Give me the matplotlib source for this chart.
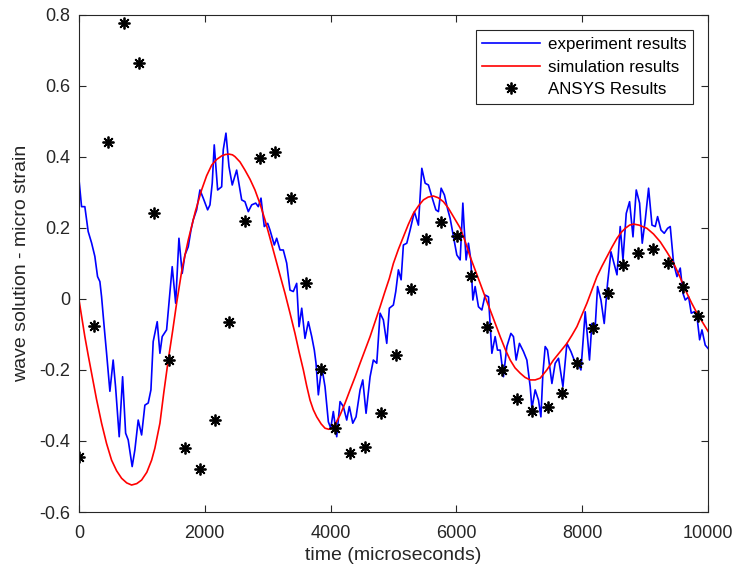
import numpy as np
import matplotlib
matplotlib.use("Agg")
import matplotlib.pyplot as plt

plt.rcParams["font.family"] = ["Liberation Sans", "DejaVu Sans"]
plt.rcParams["axes.unicode_minus"] = False

# experiment results (time in microseconds, strain)
exp_t = [0, 43, 95, 148, 202, 254, 297, 334, 361, 402, 440, 493, 545, 583, 641, 695, 743, 784,
         847, 890, 943, 997, 1049, 1102, 1145, 1181, 1245, 1288, 1324, 1394, 1431, 1483, 1538,
         1590, 1642, 1685, 1738, 1781, 1817, 1871, 1924, 1976, 2046, 2083, 2119, 2151, 2205,
         2269, 2294, 2337, 2385, 2437, 2507, 2587, 2639, 2692, 2746, 2810, 2851, 2894, 2946,
         3000, 3037, 3105, 3143, 3196, 3248, 3302, 3355, 3407, 3461, 3498, 3541, 3593, 3646,
         3700, 3741, 3768, 3805, 3859, 3911, 3964, 4002, 4043, 4097, 4150, 4202, 4256, 4297,
         4352, 4404, 4468, 4511, 4563, 4627, 4679, 4733, 4786, 4838, 4892, 4933, 4997, 5035,
         5077, 5120, 5156, 5210, 5263, 5331, 5395, 5449, 5502, 5554, 5608, 5672, 5713, 5756,
         5808, 5862, 5899, 5952, 6005, 6058, 6101, 6121, 6153, 6190, 6228, 6260, 6296, 6349,
         6403, 6455, 6508, 6562, 6614, 6651, 6694, 6746, 6800, 6864, 6905, 6948, 7000, 7064,
         7118, 7171, 7198, 7250, 7303, 7341, 7373, 7409, 7446, 7516, 7568, 7621, 7691, 7754,
         7818, 7870, 7922, 7977, 8045, 8113, 8151, 8204, 8241, 8295, 8347, 8400, 8454, 8495,
         8550, 8601, 8645, 8697, 8750, 8804, 8856, 8909, 8951, 8999, 9052, 9106, 9158, 9195,
         9249, 9301, 9354, 9396, 9449, 9503, 9555, 9598, 9634, 9688, 9730, 9778, 9821, 9863,
         9900, 9952, 10000]
exp_v = [0.34, 0.26, 0.26, 0.19, 0.158, 0.12, 0.063, 0.049, 0.006, -0.078, -0.152, -0.26, -0.172,
         -0.247, -0.388, -0.219, -0.378, -0.397, -0.472, -0.425, -0.341, -0.383, -0.299, -0.293,
         -0.256, -0.12, -0.064, -0.153, -0.106, -0.087, -0.012, 0.091, -0.012, 0.171, 0.072,
         0.124, 0.147, 0.194, 0.223, 0.251, 0.307, 0.284, 0.251, 0.265, 0.326, 0.434, 0.307,
         0.316, 0.42, 0.467, 0.373, 0.321, 0.363, 0.279, 0.274, 0.246, 0.265, 0.27, 0.26, 0.284,
         0.204, 0.213, 0.194, 0.152, 0.171, 0.138, 0.138, 0.101, 0.025, 0.021, 0.044, -0.078,
         -0.026, -0.111, -0.064, -0.106, -0.144, -0.181, -0.27, -0.191, -0.247, -0.346, -0.364,
         -0.317, -0.388, -0.289, -0.303, -0.341, -0.303, -0.35, -0.332, -0.256, -0.228, -0.322,
         -0.219, -0.172, -0.181, -0.04, -0.059, -0.125, -0.026, -0.017, 0.021, 0.082, 0.054,
         0.152, 0.157, 0.194, 0.246, 0.208, 0.368, 0.326, 0.321, 0.288, 0.251, 0.246, 0.312,
         0.293, 0.251, 0.227, 0.175, 0.124, 0.11, 0.27, 0.204, 0.11, 0.157, 0.11, -0.003, 0.035,
         -0.022, -0.031, 0.011, 0.006, -0.153, -0.106, -0.144, -0.144, -0.219, -0.134, -0.097,
         -0.106, -0.172, -0.125, -0.148, -0.172, -0.247, -0.308, -0.256, -0.285, -0.332, -0.209,
         -0.134, -0.144, -0.238, -0.181, -0.167, -0.247, -0.125, -0.148, -0.172, -0.177, -0.2,
         -0.036, -0.172, -0.069, -0.078, 0.035, -0.003, -0.069, 0.044, 0.133, 0.105, 0.068,
         0.204, 0.11, 0.241, 0.274, 0.175, 0.307, 0.27, 0.157, 0.223, 0.312, 0.208, 0.204, 0.232,
         0.194, 0.185, 0.199, 0.204, 0.101, 0.063, 0.087, 0.016, -0.003, 0.006, -0.04, -0.036,
         -0.05, -0.115, -0.087, -0.13, -0.14]

# simulation results
sim_t = [0, 50, 95, 150, 202, 280, 361, 440, 520, 600, 679, 760, 838, 920, 997, 1080, 1156, 1208,
         1288, 1350, 1420, 1490, 1553, 1640, 1738, 1850, 1950, 2030, 2110, 2190, 2269, 2330, 2385,
         2440, 2480, 2560, 2639, 2720, 2798, 2880, 2957, 3036, 3116, 3196, 3275, 3355, 3434,
         3500, 3567, 3620, 3673, 3725, 3779, 3850, 3911, 3970, 4018, 4080, 4150, 4230, 4309,
         4390, 4468, 4548, 4627, 4706, 4786, 4860, 4933, 4997, 5077, 5156, 5235, 5315, 5395,
         5474, 5550, 5633, 5710, 5792, 5870, 5951, 6058, 6140, 6217, 6296, 6376, 6455, 6535,
         6615, 6694, 6775, 6853, 6930, 7012, 7090, 7171, 7250, 7330, 7435, 7541, 7650, 7754,
         7835, 7913, 7990, 8072, 8150, 8231, 8310, 8390, 8470, 8550, 8620, 8681, 8750, 8813,
         8900, 9025, 9130, 9237, 9340, 9449, 9555, 9661, 9740, 9821, 9910, 10000]
sim_v = [0.0, -0.055, -0.106, -0.16, -0.209, -0.282, -0.35, -0.407, -0.454, -0.484, -0.505,
         -0.518, -0.524, -0.52, -0.51, -0.488, -0.454, -0.42, -0.35, -0.263, -0.172, -0.09, -0.012,
         0.085, 0.166, 0.246, 0.307, 0.347, 0.377, 0.393, 0.403, 0.407, 0.408, 0.406, 0.401,
         0.386, 0.363, 0.337, 0.307, 0.267, 0.223, 0.172, 0.119, 0.067, 0.016, -0.04, -0.097,
         -0.15, -0.2, -0.245, -0.285, -0.312, -0.332, -0.352, -0.364, -0.367, -0.364, -0.35,
         -0.327, -0.293, -0.256, -0.219, -0.181, -0.143, -0.106, -0.064, -0.022, 0.019, 0.058,
         0.1, 0.14, 0.175, 0.21, 0.241, 0.262, 0.279, 0.287, 0.29, 0.285, 0.274, 0.256, 0.232,
         0.2, 0.161, 0.119, 0.082, 0.044, 0.006, -0.031, -0.069, -0.106, -0.142, -0.172, -0.194,
         -0.209, -0.221, -0.228, -0.228, -0.223, -0.2, -0.172, -0.148, -0.125, -0.102, -0.078,
         -0.046, -0.012, 0.025, 0.063, 0.092, 0.119, 0.146, 0.171, 0.188, 0.199, 0.208, 0.211,
         0.208, 0.199, 0.183, 0.161, 0.133, 0.101, 0.06, 0.016, -0.013, -0.04, -0.066, -0.092]

# ANSYS results
ansys_t = [0, 243, 466, 715, 959, 1192, 1436, 1685, 1924, 2162, 2390, 2639, 2878, 3116, 3366,
           3609, 3843, 4070, 4309, 4547, 4797, 5040, 5273, 5517, 5756, 6005, 6232, 6481, 6730,
           6958, 7197, 7446, 7674, 7922, 8161, 8400, 8645, 8877, 9115, 9354, 9598, 9837]
ansys_v = [-0.444, -0.076, 0.441, 0.778, 0.664, 0.243, -0.172, -0.421, -0.479, -0.341, -0.066,
           0.221, 0.396, 0.415, 0.284, 0.044, -0.198, -0.364, -0.435, -0.416, -0.322, -0.158,
           0.027, 0.168, 0.218, 0.177, 0.065, -0.078, -0.2, -0.283, -0.315, -0.305, -0.264,
           -0.181, -0.083, 0.018, 0.096, 0.13, 0.14, 0.1, 0.033, -0.048]

xticks = [0, 2000, 4000, 6000, 8000, 10000]
yticks = [-0.6, -0.4, -0.2, 0, 0.2, 0.4, 0.6, 0.8]
ytick_labels = ["-0.6", "-0.4", "-0.2", "0", "0.2", "0.4", "0.6", "0.8"]

fig = plt.figure(figsize=(7.37, 5.74), dpi=100)
ax = fig.add_axes([0.107, 0.108, 0.854, 0.866])

ax.plot(exp_t, exp_v, color="#0000ff", lw=1.2, label="experiment results")
ax.plot(sim_t, sim_v, color="#ff0000", lw=1.2, label="simulation results")
ax.plot(ansys_t, ansys_v, ls="none", marker=(8, 2, 0), ms=8.5, mew=1.3, color="black",
        label="ANSYS Results")

ax.set_xlim(0, 10000)
ax.set_ylim(-0.6, 0.8)
ax.set_xticks(xticks)
ax.set_yticks(yticks)
ax.set_yticklabels(ytick_labels)
ax.tick_params(direction="in", length=5, top=True, right=True, labelsize=13,
               colors="#262626", width=0.8)
ax.tick_params(axis="x", pad=9)
ax.tick_params(axis="y", pad=6)
for s in ax.spines.values():
    s.set_color("#262626")
    s.set_linewidth(0.8)

ax.set_xlabel("time (microseconds)", fontsize=14, color="#262626", labelpad=4)
ax.set_ylabel("wave solution - micro strain", fontsize=14, color="#262626", labelpad=7)

leg = ax.legend(loc="upper right", fontsize=12.2, fancybox=False, framealpha=1,
                edgecolor="#262626", handlelength=3.4, borderaxespad=0.9,
                labelspacing=0.45, handletextpad=0.45, borderpad=0.4)
leg.get_frame().set_linewidth(0.8)

fig.savefig("out.png", dpi=100)
